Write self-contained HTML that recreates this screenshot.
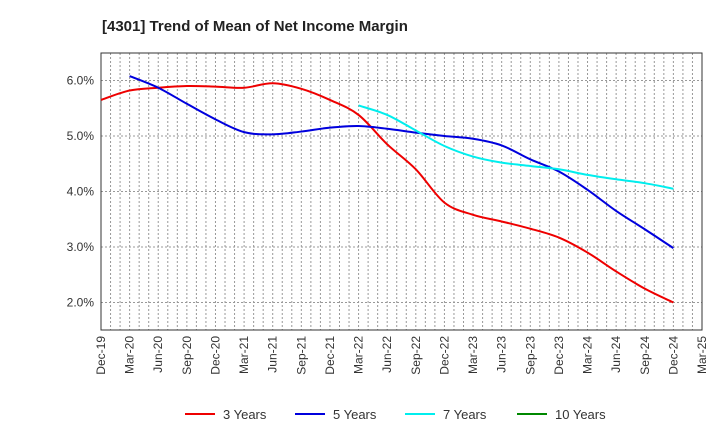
<!DOCTYPE html>
<html><head><meta charset="utf-8"><style>
body{margin:0;background:#fff;font-family:"Liberation Sans",sans-serif;}
</style></head><body>
<svg id="c" width="720" height="440" xmlns="http://www.w3.org/2000/svg">
<text x="102" y="31" font-size="15" font-weight="bold" fill="#222">[4301]  Trend of Mean of Net Income Margin</text>
<g id="grid"></g><g id="axes"></g><g id="series"></g><g id="legend"></g>
</svg>
<script>
const xLabels=["Dec-19","Mar-20","Jun-20","Sep-20","Dec-20","Mar-21","Jun-21","Sep-21","Dec-21","Mar-22","Jun-22","Sep-22","Dec-22","Mar-23","Jun-23","Sep-23","Dec-23","Mar-24","Jun-24","Sep-24","Dec-24","Mar-25"];
const yTicks=[2,3,4,5,6];
const s3=[5.65,5.82,5.87,5.9,5.89,5.87,5.95,5.85,5.65,5.38,4.85,4.4,3.8,3.58,3.46,3.33,3.17,2.9,2.56,2.25,2.0];
const s5=[6.08,5.87,5.58,5.3,5.07,5.03,5.08,5.15,5.18,5.13,5.06,5.0,4.95,4.83,4.58,4.36,4.03,3.65,3.32,2.98];
const s7=[5.55,5.38,5.1,4.82,4.63,4.52,4.46,4.4,4.3,4.22,4.15,4.05];
const s10=[];
const NS="http://www.w3.org/2000/svg";
const L=101,R=702,T=53,B=330;
const xq=i=>L+i*(R-L)/21;
const y=v=>136-(v-5)*55.5;
function mk(tag,attrs,parent){const e=document.createElementNS(NS,tag);for(const k in attrs)e.setAttribute(k,attrs[k]);parent.appendChild(e);return e;}
const grid=document.getElementById('grid'),axes=document.getElementById('axes'),ser=document.getElementById('series'),leg=document.getElementById('legend');
for(let m=1;m<63;m++){const x=L+m*(R-L)/63;const g=mk('line',{x1:x,x2:x,y1:T,y2:B,stroke:'#999','stroke-dasharray':'2,2','stroke-width':1},grid);

}
yTicks.forEach(v=>{const g=mk('line',{x1:L,x2:R,y1:y(v),y2:y(v),stroke:'#999','stroke-dasharray':'2,2'},grid);


const t=mk('text',{x:L-7,y:y(v)+4,'text-anchor':'end','font-size':12,fill:'#333'},axes);t.textContent=v.toFixed(1)+'%';

});
const fr=mk('rect',{x:L,y:T,width:R-L,height:B-T,fill:'none',stroke:'#333'},axes);


xLabels.forEach((l,i)=>{const x=xq(i);const t=mk('text',{transform:`translate(${x+4},${B+6}) rotate(-90)`,'text-anchor':'end','font-size':12,fill:'#333'},axes);t.textContent=l;

});
function path(vals,start){const p=vals.map((v,i)=>[xq(start+i),y(v)]);if(p.length<2)return '';let d=`M${p[0][0]},${p[0][1]}`;
for(let i=0;i<p.length-1;i++){const p0=p[i-1]||p[i],p1=p[i],p2=p[i+1],p3=p[i+2]||p2;
d+=` C${p1[0]+(p2[0]-p0[0])/6},${p1[1]+(p2[1]-p0[1])/6} ${p2[0]-(p3[0]-p1[0])/6},${p2[1]-(p3[1]-p1[1])/6} ${p2[0]},${p2[1]}`;}return d;}
const series=[[s3,0,'#e00','3 Years','series-3-years'],[s5,1,'#00d','5 Years','series-5-years'],[s7,9,'#0ee','7 Years','series-7-years'],[s10,0,'#080','10 Years','series-10-years']];
series.forEach((s,k)=>{if(s[0].length>1){const e=mk('path',{d:path(s[0],s[1]),fill:'none',stroke:s[2],'stroke-width':2},ser);

}
const lx=[185,295,405,517][k];
const g=mk('g',{},leg);


mk('line',{x1:lx,x2:lx+30,y1:414,y2:414,stroke:s[2],'stroke-width':2},g);
const t=mk('text',{x:lx+38,y:419,'font-size':13,fill:'#333'},g);t.textContent=s[3];});
</script>
</body></html>
